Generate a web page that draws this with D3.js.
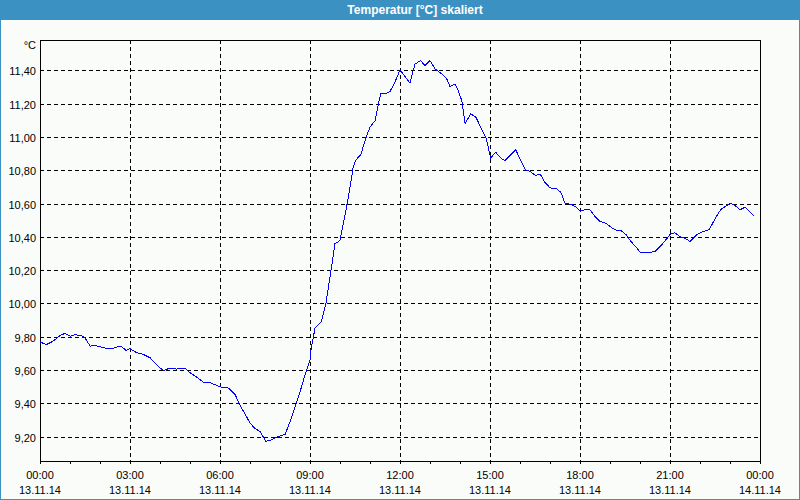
<!DOCTYPE html>
<html>
<head>
<meta charset="utf-8">
<script src="https://cdn.jsdelivr.net/npm/d3@7"></script>
<style>
  body { margin: 0; background: #fafcfa; }
  svg { display: block; }
</style>
</head>
<body>
<div class="canvas"></div>
<script>
const dims = { width: 800, height: 500, titleH: 20 };
const plot = { left: 40, right: 760, top: 40, bottom: 461 };

// time in hours since 13.11.14 00:00
const hours = [
  0, 0.22, 0.44, 0.67, 0.83, 1.02, 1.17, 1.39, 1.5, 1.67, 1.83, 2.11, 2.39, 2.61, 2.72, 2.87,
  3.0, 3.22, 3.44, 3.67, 3.83, 4.0, 4.13, 4.33, 4.56, 4.83, 4.94, 5.17, 5.44, 5.67, 5.89,
  6.06, 6.28, 6.5, 6.67, 6.83, 7.0, 7.17, 7.33, 7.53, 7.67, 7.89, 8.0, 8.17, 8.33, 8.5, 8.67,
  8.83, 9.0, 9.03, 9.17, 9.37, 9.53, 9.7, 9.83, 10.0, 10.11, 10.28, 10.44, 10.53, 10.69, 10.87,
  11.0, 11.17, 11.28, 11.36, 11.5, 11.67, 11.83, 12.0, 12.17, 12.33, 12.5, 12.69, 12.83,
  13.0, 13.17, 13.39, 13.56, 13.67, 13.83, 13.94, 14.06, 14.17, 14.36, 14.53, 14.72, 14.87,
  15.02, 15.19, 15.39, 15.5, 15.86, 16.02, 16.17, 16.33, 16.52, 16.67, 16.83, 17.0, 17.22,
  17.36, 17.5, 17.72, 17.87, 18.02, 18.17, 18.33, 18.5, 18.67, 18.87, 19.0, 19.17, 19.36,
  19.53, 19.72, 19.89, 20.02, 20.22, 20.5, 20.72, 20.89, 21.02, 21.17, 21.36, 21.5, 21.67,
  21.89, 22.06, 22.31, 22.5, 22.69, 22.89, 23.0, 23.17, 23.33, 23.5, 23.64, 23.81
];
const temps = [
  9.768, 9.754, 9.774, 9.808, 9.82, 9.804, 9.812, 9.806, 9.794, 9.744, 9.748, 9.734, 9.728, 9.742, 9.74, 9.718,
  9.728, 9.704, 9.694, 9.674, 9.642, 9.612, 9.598, 9.612, 9.606, 9.612, 9.592, 9.564, 9.528, 9.524, 9.508,
  9.496, 9.492, 9.454, 9.388, 9.338, 9.282, 9.248, 9.232, 9.172, 9.178, 9.196, 9.204, 9.214, 9.288, 9.378, 9.47,
  9.57, 9.66, 9.72, 9.854, 9.888, 9.998, 10.198, 10.358, 10.378, 10.478, 10.638, 10.818, 10.862, 10.892, 10.998,
  11.058, 11.098, 11.198, 11.262, 11.258, 11.274, 11.328, 11.402, 11.362, 11.324, 11.438, 11.458, 11.428,
  11.458, 11.408, 11.378, 11.348, 11.302, 11.318, 11.278, 11.218, 11.082, 11.138, 11.118, 11.048, 10.994,
  10.874, 10.908, 10.868, 10.858, 10.922, 10.858, 10.804, 10.794, 10.768, 10.778, 10.728, 10.694, 10.688,
  10.668, 10.602, 10.594, 10.578, 10.554, 10.564, 10.562, 10.522, 10.492, 10.482, 10.462, 10.442, 10.438,
  10.414, 10.368, 10.334, 10.304, 10.304, 10.312, 10.352, 10.388, 10.418, 10.424, 10.398, 10.392, 10.372,
  10.412, 10.428, 10.444, 10.508, 10.564, 10.588, 10.602, 10.588, 10.562, 10.578, 10.554, 10.524
];

const yTicks = [9.2, 9.4, 9.6, 9.8, 10.0, 10.2, 10.4, 10.6, 10.8, 11.0, 11.2, 11.4];
const xTicks = [0, 3, 6, 9, 12, 15, 18, 21, 24];
const timeLabels = ['00:00', '03:00', '06:00', '09:00', '12:00', '15:00', '18:00', '21:00', '00:00'];
const dateLabels = ['13.11.14', '13.11.14', '13.11.14', '13.11.14', '13.11.14', '13.11.14', '13.11.14', '13.11.14', '14.11.14'];

const svg = d3.select('.canvas')
    .append('svg')
    .attr('width', dims.width)
    .attr('height', dims.height);

const blue = '#3c91c3';

// frame + title bar
svg.append('rect')
    .attr('x', 0.5).attr('y', 0.5)
    .attr('width', dims.width - 1).attr('height', dims.height - 1)
    .attr('fill', '#fafcfa')
    .attr('stroke', blue);
svg.append('rect')
    .attr('x', 0).attr('y', 0)
    .attr('width', dims.width).attr('height', dims.titleH)
    .attr('fill', blue);
svg.append('text')
    .attr('x', 415).attr('y', 14)
    .attr('text-anchor', 'middle')
    .attr('fill', '#fff')
    .attr('font-family', 'Liberation Sans, Arial, sans-serif')
    .attr('font-weight', 'bold')
    .attr('font-size', 12)
    .text('Temperatur [°C] skaliert');

const x = d3.scaleLinear().domain([0, 24]).range([plot.left, plot.right]);
const y = d3.scaleLinear().domain([9.054, 11.582]).range([plot.bottom, plot.top]);
const px = v => Math.round(v) + 0.5;

const font = 'Liberation Sans, Arial, sans-serif';

// grid
const grid = svg.append('g')
    .attr('stroke', '#000')
    .attr('stroke-dasharray', '4,3')
    .attr('shape-rendering', 'crispEdges');
grid.selectAll('line.h')
    .data(yTicks)
    .enter().append('line')
    .attr('x1', plot.left).attr('x2', plot.right)
    .attr('y1', d => px(y(d))).attr('y2', d => px(y(d)));
grid.selectAll('line.v')
    .data(xTicks.slice(1, -1))
    .enter().append('line')
    .attr('y1', plot.top).attr('y2', plot.bottom)
    .attr('x1', d => px(x(d))).attr('x2', d => px(x(d)));

// plot box
svg.append('rect')
    .attr('x', plot.left + 0.5).attr('y', plot.top + 0.5)
    .attr('width', plot.right - plot.left).attr('height', plot.bottom - plot.top)
    .attr('fill', 'none')
    .attr('stroke', '#000')
    .attr('shape-rendering', 'crispEdges');

// y axis labels
svg.append('g').selectAll('text')
    .data(yTicks)
    .enter().append('text')
    .attr('x', 36)
    .attr('y', d => px(y(d)) + 4)
    .attr('text-anchor', 'end')
    .attr('font-family', font)
    .attr('font-size', 11)
    .attr('fill', '#000')
    .text(d => d3.format('.2f')(d).replace('.', ','));
svg.append('text')
    .attr('x', 36).attr('y', 49)
    .attr('text-anchor', 'end')
    .attr('font-family', font)
    .attr('font-size', 11)
    .text('°C');

// x axis ticks (hourly) and labels
svg.append('g').selectAll('line')
    .data(d3.range(0, 25))
    .enter().append('line')
    .attr('x1', d => px(x(d))).attr('x2', d => px(x(d)))
    .attr('y1', plot.bottom).attr('y2', plot.bottom + 3)
    .attr('stroke', '#000')
    .attr('shape-rendering', 'crispEdges');

const xl = svg.append('g')
    .attr('font-family', font)
    .attr('font-size', 11)
    .attr('text-anchor', 'middle');
xl.selectAll('text.t')
    .data(xTicks)
    .enter().append('text')
    .attr('x', d => x(d))
    .attr('y', 479)
    .text((d, i) => timeLabels[i]);
xl.selectAll('text.d')
    .data(xTicks)
    .enter().append('text')
    .attr('x', d => x(d))
    .attr('y', 494)
    .text((d, i) => dateLabels[i]);

// temperature line
const line = d3.line()
    .x(d => x(d[0]))
    .y(d => y(d[1]));

svg.append('path')
    .datum(d3.zip(hours, temps))
    .attr('d', line)
    .attr('fill', 'none')
    .attr('stroke', '#0000ff')
    .attr('stroke-width', 1)
    .attr('shape-rendering', 'crispEdges');
</script>
</body>
</html>
